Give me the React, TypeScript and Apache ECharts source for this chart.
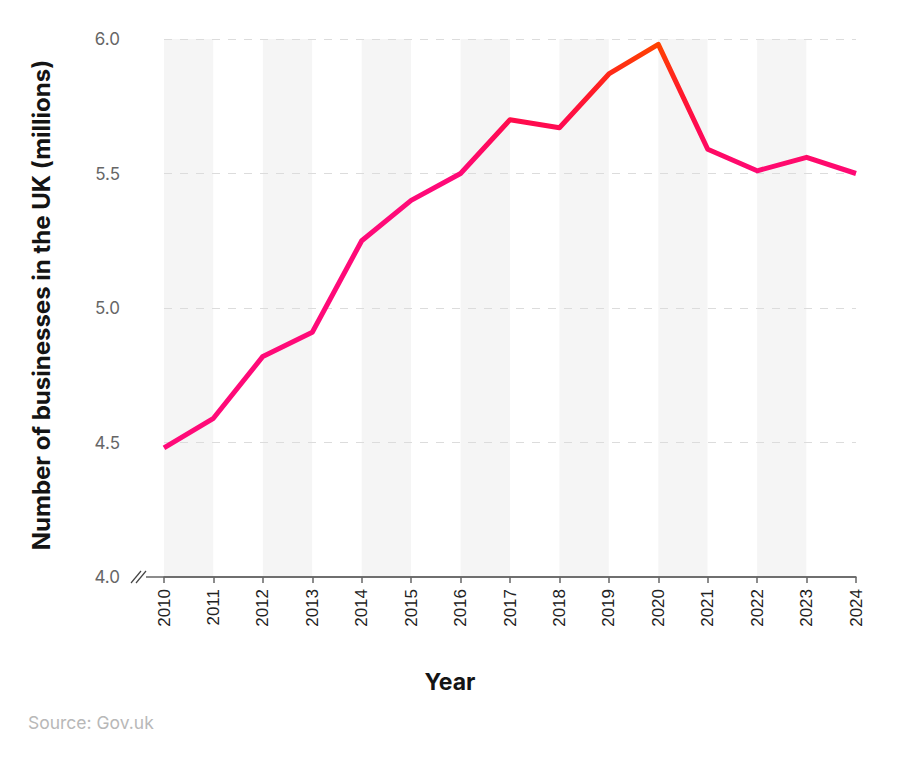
import React, { useEffect, useRef } from "react";
import * as echarts from "echarts";

const years = ["2010","2011","2012","2013","2014","2015","2016","2017","2018","2019","2020","2021","2022","2023","2024"];
const businesses = [4.48, 4.59, 4.82, 4.91, 5.25, 5.40, 5.50, 5.70, 5.67, 5.87, 5.98, 5.59, 5.51, 5.56, 5.50];
const yTicks = [4.0, 4.5, 5.0, 5.5, 6.0];

export default function App() {
  const ref = useRef<HTMLDivElement>(null);
  useEffect(() => {
    document.body.style.margin = "0";
    const chart = echarts.init(ref.current!, null, { renderer: "svg" });
    const font = "Inter, 'Noto Sans', sans-serif";
    const arial = "'Liberation Sans', Arial, sans-serif";
    chart.setOption({
      animation: false,
      textStyle: { fontFamily: font },
      grid: { left: 164, right: 44, top: 39, bottom: 183 },
      xAxis: {
        type: "category",
        data: years,
        boundaryGap: false,
        z: 0,
        axisLine: { lineStyle: { color: "#666", width: 1.5 } },
        axisTick: { alignWithLabel: true, length: 6, lineStyle: { color: "#666", width: 1.5 } },
        axisLabel: { rotate: 90, color: "#222", fontSize: 17, margin: 12, fontFamily: arial },
        splitArea: { show: true, areaStyle: { color: ["#f5f5f5", "#ffffff"] } },
        splitLine: { show: false },
      },
      yAxis: {
        type: "value",
        min: yTicks[0],
        max: yTicks[yTicks.length - 1],
        interval: 0.5,
        z: 2,
        axisLine: { show: false },
        axisTick: { show: false },
        axisLabel: {
          color: "#666",
          fontSize: 17,
          margin: 44,
          fontFamily: font,
          formatter: (v: number) => v.toFixed(1),
        },
        splitLine: { showMinLine: false, lineStyle: { color: "#dcdcdc", type: [8, 8], width: 1 } },
      },
      series: [
        {
          type: "line",
          data: businesses,
          symbol: "none",
          z: 5,
          lineStyle: {
            width: 5,
            join: "round",
            color: new echarts.graphic.LinearGradient(0, 0, 0, 1, [
              { offset: 0, color: "#ff4200" },
              { offset: 0.12, color: "#ff1a2a" },
              { offset: 0.2, color: "#ff0a50" },
              { offset: 0.33, color: "#ff0a78" },
              { offset: 1, color: "#ff0a78" },
            ]),
          },
        },
      ],
      graphic: [
        { type: "line", z: 10, shape: { x1: 137, y1: 577, x2: 856, y2: 577 }, style: { stroke: "#666", lineWidth: 1.5 } },
        { type: "rect", z: 11, shape: { x: 134, y: 571, width: 12, height: 12 }, style: { fill: "#fff" } },
        { type: "line", z: 12, shape: { x1: 131, y1: 583, x2: 141, y2: 571 }, style: { stroke: "#444", lineWidth: 1.2 } },
        { type: "line", z: 12, shape: { x1: 136, y1: 583, x2: 146, y2: 571 }, style: { stroke: "#444", lineWidth: 1.2 } },
        {
          type: "text",
          x: 41,
          y: 305,
          rotation: Math.PI / 2,
          style: {
            text: "Number of businesses in the UK (millions)",
            fontSize: 24,
            fontWeight: "bold",
            fill: "#141414",
            fontFamily: font,
            align: "center",
            verticalAlign: "middle",
          },
        },
        {
          type: "text",
          x: 450,
          y: 682,
          style: {
            text: "Year",
            fontSize: 23,
            fontWeight: "bold",
            fill: "#141414",
            fontFamily: font,
            align: "center",
            verticalAlign: "middle",
          },
        },
        {
          type: "text",
          x: 28,
          y: 722,
          style: {
            text: "Source: Gov.uk",
            fontSize: 17.5,
            fill: "#b8b8b8",
            fontFamily: font,
            align: "left",
            verticalAlign: "middle",
          },
        },
      ],
    });
    return () => chart.dispose();
  }, []);
  return <div ref={ref} style={{ width: 900, height: 760 }} />;
}
